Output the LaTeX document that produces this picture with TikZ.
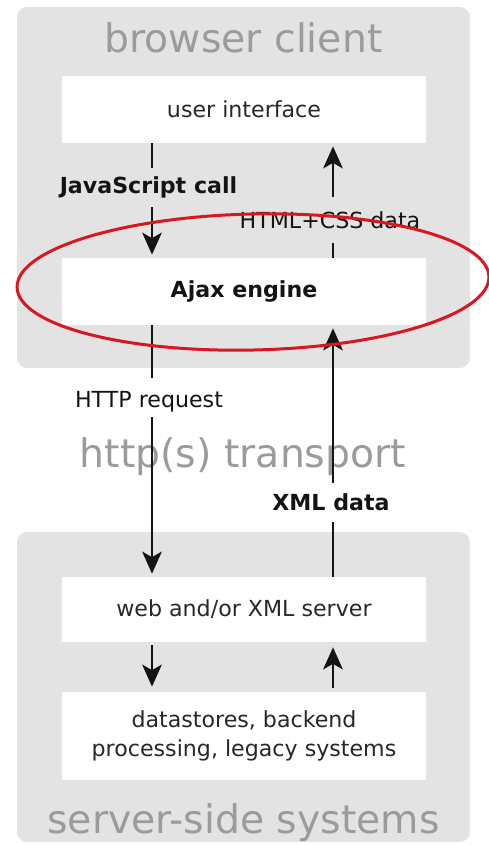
\documentclass[tikz,border=0pt]{standalone}
\usepackage{fontspec}
\setmainfont{DejaVu Sans}
\usetikzlibrary{arrows.meta}
\definecolor{panelgrey}{RGB}{227,227,227}
\definecolor{ttlgrey}{RGB}{155,155,155}
\definecolor{ink}{RGB}{20,20,20}
\definecolor{boxtxt}{RGB}{40,40,40}
\definecolor{ring}{RGB}{218,22,32}
\begin{document}
\begin{tikzpicture}[x=0.02cm,y=-0.02cm,
  panel/.style={fill=panelgrey, rounded corners=0.2cm, minimum width=9.06cm, inner sep=0pt},
  whitebox/.style={fill=white, minimum width=7.28cm, inner sep=0pt, text=boxtxt,
     font=\fontsize{12.6}{16.5}\selectfont, align=center},
  bigtitle/.style={text=ttlgrey, font=\fontsize{22.4}{26}\selectfont, anchor=base, inner sep=0pt},
  lab/.style={text=ink, font=\fontsize{12.6}{15}\selectfont, anchor=base, inner sep=0pt,
     text height=0.34cm, text depth=0.1cm},
  labb/.style={lab, font=\fontsize{12.6}{15}\selectfont\bfseries},
  ln/.style={draw=ink, line width=0.55mm},
  arr/.style={ln, -{Stealth[length=4.4mm,width=3.9mm,inset=1.1mm]}}
]
\useasboundingbox (0,0) rectangle (489,845);
\fill[white] (0,0) rectangle (489,845);

% panels
\node[panel, minimum height=7.22cm] (client) at (243.5,187.5) {};
\node[panel, minimum height=6.2cm] (server) at (243.5,687) {};

% big titles
\node[bigtitle] (tclient) at (243.5,52) {browser client};
\node[bigtitle] (ttrans) at (243,467) {http(s) transport};
\node[bigtitle] (tserver) at (243.5,833) {server-side systems};

% white boxes
\node[whitebox, minimum height=1.34cm] (ui) at (244,109.5) {user interface};
\node[whitebox, minimum height=1.34cm, text=ink, font=\fontsize{12.6}{16.5}\selectfont\bfseries] (ajax) at (244,291.5) {Ajax engine};
\node[whitebox, minimum height=1.3cm] (ws) at (244,609.5) {web and/or XML server};
\node[whitebox, minimum height=1.76cm] (ds) at (244,736) {datastores, backend\\processing, legacy systems};

% connector labels
\node[labb] (js) at (148.5,193) {JavaScript call};
\node[lab] (html) at (330,228) {HTML+CSS data};
\node[lab] (http) at (149,407) {HTTP request};
\node[labb] (xml) at (331,510) {XML data};

\coordinate (L) at (152,0);
\coordinate (R) at (333,0);

% connectors
\draw[ln, shorten >=0.16cm] (ui.south -| L) -- (js.north -| L);
\draw[arr, shorten <=0.18cm, shorten >=0.06cm] (js.south -| L) -- (ajax.north -| L);
\draw[ln, shorten >=0.2cm] (ajax.north -| R) -- (html.south -| R);
\draw[arr, shorten <=0.28cm, shorten >=0.06cm] (html.north -| R) -- (ui.south -| R);
\draw[ln, shorten >=0.24cm] (ajax.south -| L) -- (http.north -| L);
\draw[arr, shorten <=0.1cm, shorten >=0.06cm] (http.south -| L) -- (ws.north -| L);
\draw[ln, shorten >=0.14cm] (ws.north -| R) -- (xml.south -| R);
\draw[arr, shorten <=0.2cm, shorten >=0.06cm] (xml.north -| R) -- (ajax.south -| R);
\draw[arr, shorten <=0.06cm, shorten >=0.1cm] (ws.south -| L) -- (ds.north -| L);
\draw[arr, shorten <=0.08cm, shorten >=0.1cm] (ds.north -| R) -- (ws.south -| R);

% red highlight ellipse
\draw[ring, line width=0.6mm, rotate around={1.3:(253,282)}] (253,282) ellipse [x radius=236, y radius=68];
\end{tikzpicture}
\end{document}
